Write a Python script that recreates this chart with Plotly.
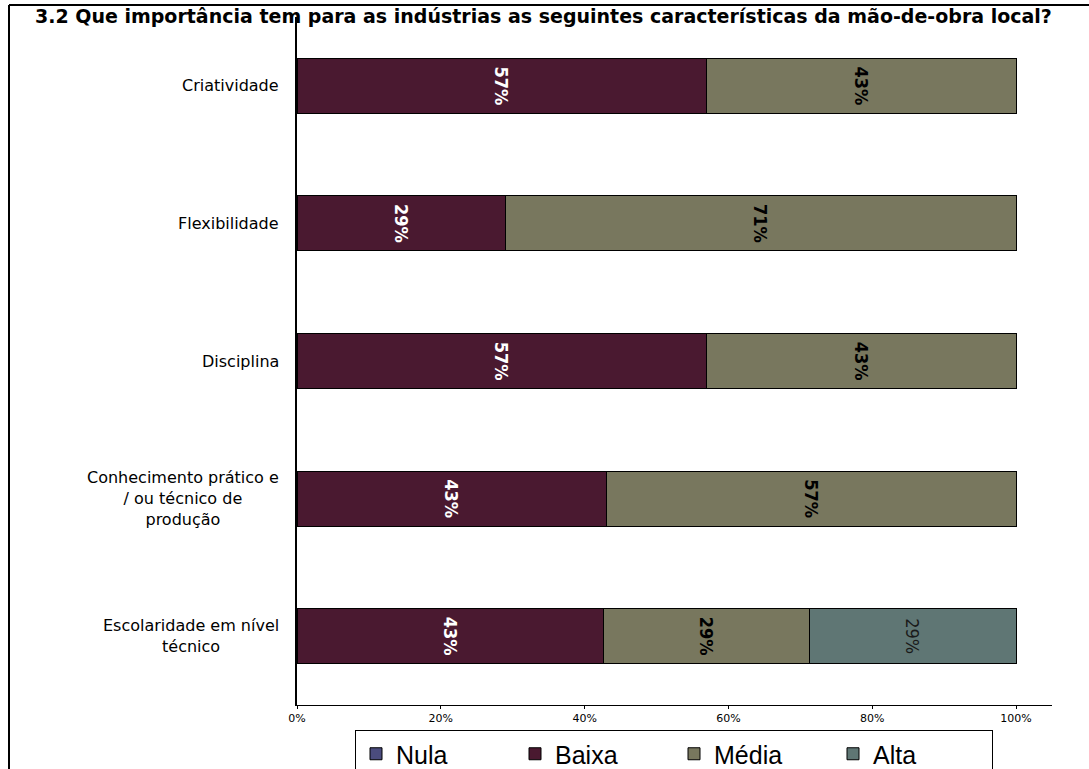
import plotly.graph_objects as go

# Survey categories (top to bottom) and share of answers per importance level, in %
categories = [
    "Criatividade",
    "Flexibilidade",
    "Disciplina",
    "Conhecimento prático e<br>/ ou técnico de<br>produção",
    "Escolaridade em nível<br>técnico",
]
nula = [0, 0, 0, 0, 0]
baixa = [57, 29, 57, 43, 43]
media = [43, 71, 43, 57, 29]
alta = [0, 0, 0, 0, 29]

series_names = ["Nula", "Baixa", "Média", "Alta"]
x_ticks = [0, 20, 40, 60, 80, 100]
x_tick_labels = ["0%", "20%", "40%", "60%", "80%", "100%"]
title_text = "3.2 Que importância tem para as indústrias as seguintes características da mão-de-obra local?"

colors = ["#4b4c7e", "#4a1930", "#78775e", "#5f7674"]
text_colors = ["#ffffff", "#ffffff", "#000000", "#1a1a1a"]
label_font = "Liberation Sans Narrow, DejaVu Sans Condensed, Arial Narrow, sans-serif"

W, H = 1089, 769
L, R, T, B = 297, 37, 17, 64
pw, ph = W - L - R, H - T - B


def px_x(p):
    return (p - L) / pw


def px_y(p):
    return (H - B - p) / ph


fig = go.Figure()
for name, vals, col, tcol in zip(series_names, [nula, baixa, media, alta], colors, text_colors):
    fig.add_trace(go.Bar(
        name=name,
        y=list(range(len(categories))),
        x=vals,
        orientation="h",
        width=0.4,
        marker=dict(color=col, line=dict(color="#000000", width=1)),
        text=[f"{v}%" if v else "" for v in vals],
        textposition="inside",
        insidetextanchor="middle",
        textangle=90,
        constraintext="none",
        textfont=dict(family=label_font, size=18, color=tcol,
                      weight="normal" if name == "Alta" else "bold"),
        hoverinfo="skip",
    ))

# category labels: lines centred within a block that is right-aligned to the axis
annotations = []
for i, cat in enumerate(categories):
    annotations.append(dict(
        x=px_x(281), xref="paper", y=i, yref="y",
        text=cat, showarrow=False, xanchor="right", yanchor="middle",
        align="center",
        font=dict(family="DejaVu Sans", size=16, color="#000000"),
    ))

annotations.append(dict(
    x=px_x(33), xref="paper", y=px_y(16), yref="paper",
    text=f"<b>{title_text}</b>", showarrow=False, xanchor="left", yanchor="middle",
    font=dict(family="DejaVu Sans", size=19, color="#000000"),
))

# outer frame (left and top edges)
shapes = [
    dict(type="line", xref="paper", yref="paper",
         x0=px_x(9), x1=px_x(9), y0=px_y(5), y1=px_y(H + 5),
         line=dict(color="#000000", width=2), layer="below"),
    dict(type="line", xref="paper", yref="paper",
         x0=px_x(9), x1=px_x(W + 5), y0=px_y(5), y1=px_y(5),
         line=dict(color="#000000", width=2), layer="below"),
]

fig.update_layout(
    width=W, height=H,
    margin=dict(l=L, r=R, t=T, b=B, autoexpand=False),
    barmode="stack",
    barnorm="percent",
    plot_bgcolor="rgba(0,0,0,0)",
    paper_bgcolor="#ffffff",
    showlegend=True,
    legend=dict(
        orientation="h",
        x=px_x(674), xanchor="center",
        y=px_y(730), yanchor="top",
        font=dict(family="Liberation Sans, Arial, sans-serif", size=25, color="#000000"),
        bordercolor="#000000", borderwidth=1,
        bgcolor="#ffffff",
        traceorder="normal",
        itemwidth=30,
        entrywidth=114,
        entrywidthmode="pixels",
    ),
    xaxis=dict(
        range=[0, 105],
        tickvals=x_ticks, ticktext=x_tick_labels,
        tickfont=dict(family="DejaVu Sans", size=11, color="#000000"),
        showline=True, linecolor="#000000", linewidth=1,
        ticks="outside", ticklen=3, tickcolor="#000000",
        showgrid=False, zeroline=False,
        fixedrange=True,
    ),
    yaxis=dict(
        range=[len(categories) - 0.5, -0.5],
        showticklabels=False,
        showline=True, linecolor="#000000", linewidth=2,
        ticks="", showgrid=False, zeroline=False,
        fixedrange=True,
    ),
    annotations=annotations,
    shapes=shapes,
)

fig.write_html("out.html")
